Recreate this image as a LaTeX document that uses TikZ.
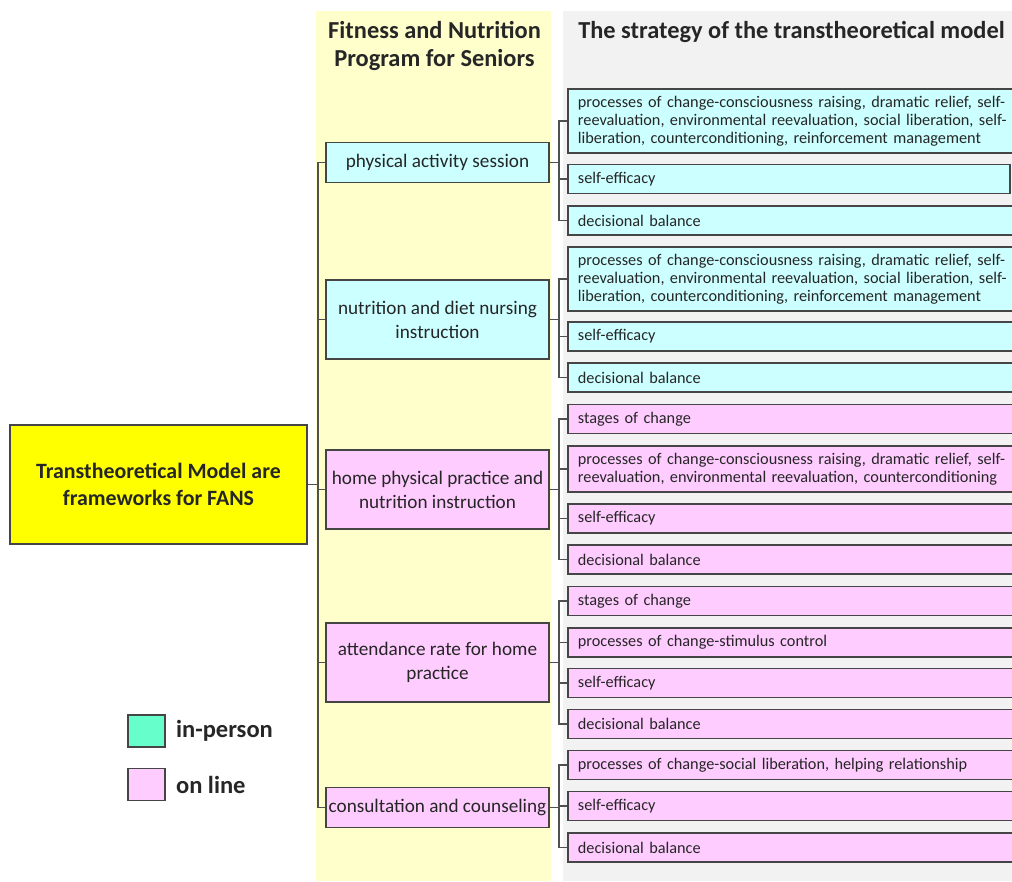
\documentclass[tikz,border=0pt]{standalone}
\usepackage{fontspec}
\setmainfont{Carlito}
\usetikzlibrary{positioning}
\definecolor{ink}{HTML}{262626}
\definecolor{edge}{HTML}{454545}
\definecolor{wire}{HTML}{505050}
\definecolor{cyanfill}{HTML}{CCFFFF}
\definecolor{pinkfill}{HTML}{FFCCFF}
\definecolor{keygreen}{HTML}{66FFCC}
\definecolor{rootyellow}{HTML}{FFFF00}
\definecolor{progback}{HTML}{FFFFCC}
\definecolor{stratback}{HTML}{F2F2F2}
\newcommand{\stratfont}{\fontsize{12.2}{13.5}\selectfont}
\newcommand{\progfont}{\fontsize{14.4}{18}\selectfont}
\newcommand{\headfont}{\fontsize{18.3}{21}\selectfont\bfseries}
\newcommand{\rootfont}{\fontsize{16.4}{20}\selectfont\bfseries}
\newcommand{\keyfont}{\fontsize{18.4}{22}\selectfont\bfseries}
\tikzset{
 every node/.append style={text=ink},
 box/.style={draw=edge,line width=1.4pt,inner sep=0pt},
 prog/.style={box,font=\progfont,align=center,minimum width=167.25pt},
 strat/.style={box,font=\stratfont,anchor=west,align=left,inner xsep=7.5pt,text width=330pt,minimum height=21.75pt},
 inperson/.style={fill=cyanfill},
 online/.style={fill=pinkfill},
 link/.style={draw=wire,line width=1.3pt},
 colhead/.style={font=\headfont,align=center,inner sep=0pt},
 swatch/.style={draw=edge,line width=1.2pt,minimum width=27.75pt,minimum height=24pt,inner sep=0pt},
 keytext/.style={font=\keyfont,inner sep=0pt,right=7.5pt of #1},
}

\begin{document}
\begin{tikzpicture}[x=.75pt,y=-.75pt]

\useasboundingbox (0,0) rectangle (1012,881);
\fill[progback] (316,11) rectangle (551,881);
\fill[stratback] (563,11) rectangle (1012,881);
\node[colhead] (proghead) at (434.5,46) {Fitness and Nutrition\\Program for Seniors};
\node[colhead,anchor=west] (strathead) at (578,32) {The strategy of the transtheoretical model};

\node[box,fill=rootyellow,font=\rootfont,align=center,minimum width=222.75pt,minimum height=89.25pt] (tm) at (158.5,484.5) {Transtheoretical Model are\\frameworks for FANS};

\node[prog,inperson,minimum height=30pt] (pas) at (437.5,162.5) {physical activity session};
\node[prog,inperson,minimum height=59.25pt] (nut) at (437.5,319.5) {nutrition and diet nursing\\instruction};
\node[prog,online,minimum height=59.25pt] (home) at (437.5,489.5) {home physical practice and\\nutrition instruction};
\node[prog,online,minimum height=59.25pt] (att) at (437.5,662.5) {attendance rate for home\\practice};
\node[prog,online,minimum height=30pt] (con) at (437.5,807.5) {consultation and counseling};

\node[strat,inperson,minimum height=48pt] (pas-proc) at (567,121) {processes of change-consciousness raising, dramatic relief, self-\\reevaluation, environmental reevaluation, social liberation, self-\\liberation, counterconditioning, reinforcement management};
\node[strat,inperson,text width=316.5pt] (pas-eff) at (567,179) {self-efficacy};
\node[strat,inperson] (pas-bal) at (567,220.5) {decisional balance};

\node[strat,inperson,minimum height=48pt] (nut-proc) at (567,279) {processes of change-consciousness raising, dramatic relief, self-\\reevaluation, environmental reevaluation, social liberation, self-\\liberation, counterconditioning, reinforcement management};
\node[strat,inperson] (nut-eff) at (567,336.5) {self-efficacy};
\node[strat,inperson] (nut-bal) at (567,377.5) {decisional balance};

\node[strat,online] (home-stage) at (567,419) {stages of change};
\node[strat,online,minimum height=34.5pt] (home-proc) at (567,469) {processes of change-consciousness raising, dramatic relief, self-\\reevaluation, environmental reevaluation, counterconditioning};
\node[strat,online] (home-eff) at (567,518.5) {self-efficacy};
\node[strat,online] (home-bal) at (567,559.5) {decisional balance};

\node[strat,online] (att-stage) at (567,601) {stages of change};
\node[strat,online] (att-proc) at (567,642.5) {processes of change-stimulus control};
\node[strat,online] (att-eff) at (567,683) {self-efficacy};
\node[strat,online] (att-bal) at (567,724) {decisional balance};

\node[strat,online] (con-proc) at (567,765) {processes of change-social liberation, helping relationship};
\node[strat,online] (con-eff) at (567,806) {self-efficacy};
\node[strat,online] (con-bal) at (567,847.5) {decisional balance};

\foreach \m in {pas,nut,home,att,con}
  \draw[link] (tm.east) -- ++(10,0) |- (\m.west);
\foreach \m/\kids in {pas/{pas-proc,pas-eff,pas-bal},nut/{nut-proc,nut-eff,nut-bal},home/{home-stage,home-proc,home-eff,home-bal},att/{att-stage,att-proc,att-eff,att-bal},con/{con-proc,con-eff,con-bal}}
  \foreach \k in \kids
    \draw[link] (\m.east) -- ++(9,0) |- (\k.west);

\node[swatch,fill=keygreen] (keyin) at (146.5,731) {};
\node[keytext=keyin] (keyintext) {in-person};
\node[swatch,fill=pinkfill] (keyon) at (146.5,784.5) {};
\node[keytext=keyon] (keyontext) {on line};

\end{tikzpicture}
\end{document}
